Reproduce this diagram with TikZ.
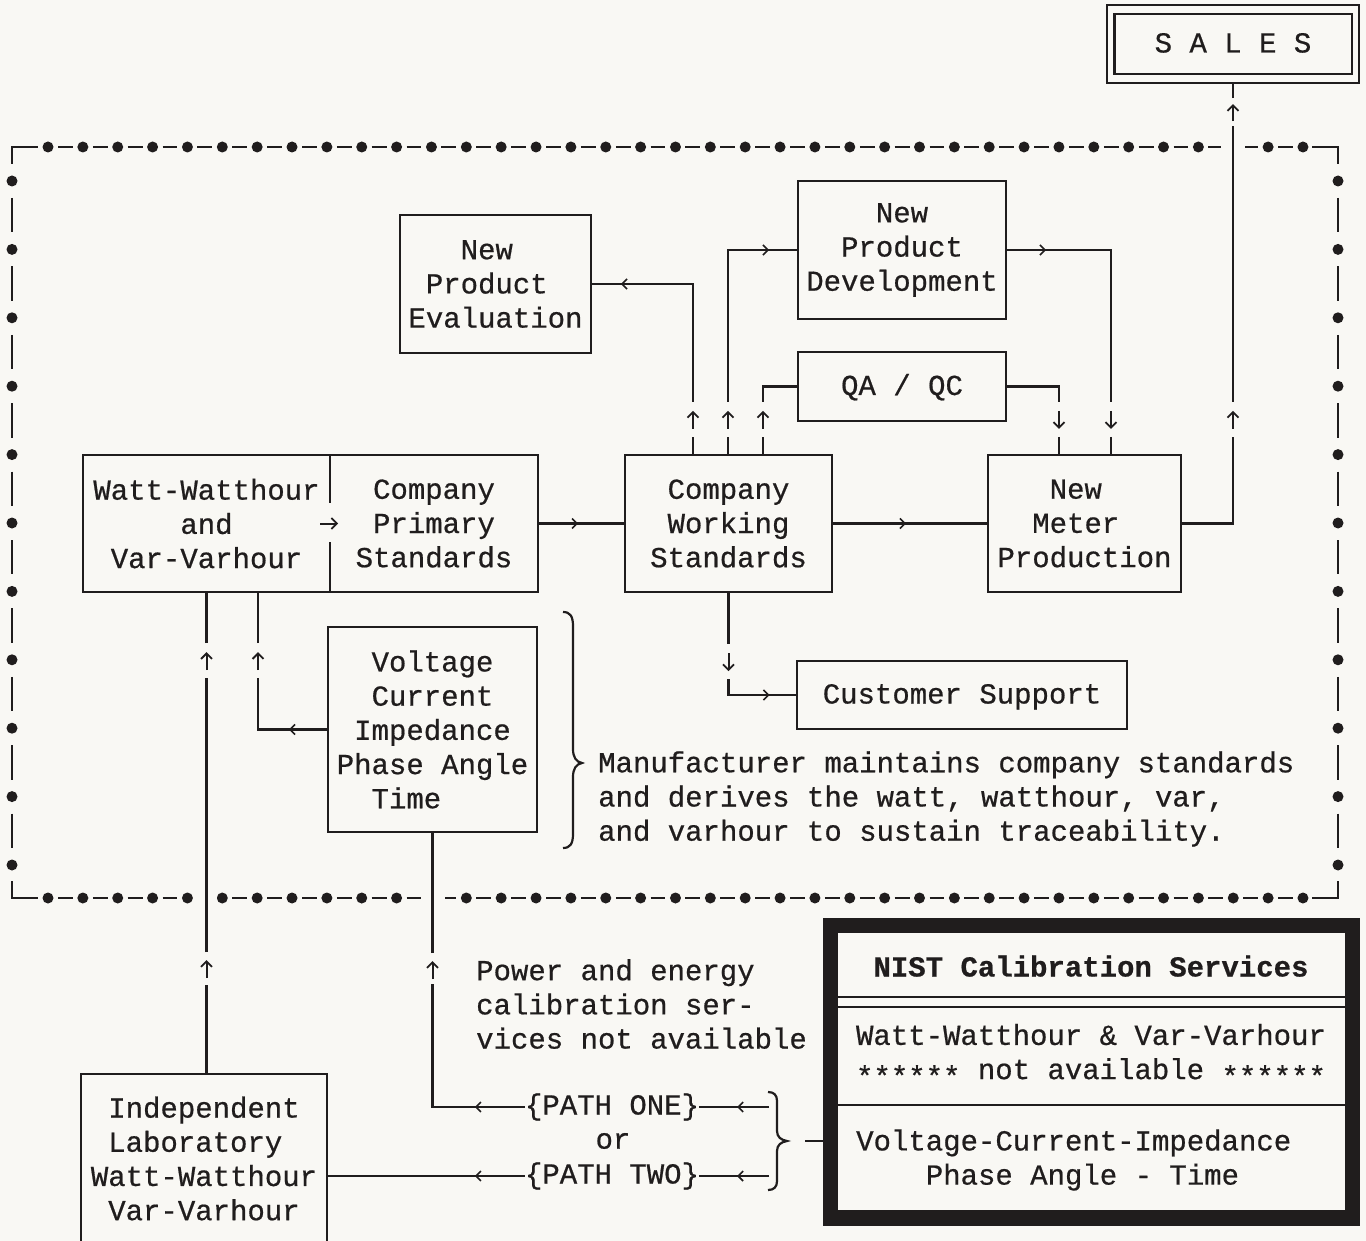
\documentclass[tikz,border=0pt]{standalone}
\usepackage{fontspec}
\newfontfamily\monofam[FakeBold=0.6]{Liberation Mono}
\newfontfamily\monobold[FakeBold=0.6]{Liberation Mono Bold}
\usetikzlibrary{arrows.meta,calc,decorations.markings}
\definecolor{ink}{RGB}{32,29,29}
\definecolor{paper}{RGB}{249,248,244}
\begin{document}
\begin{tikzpicture}[x=1pt,y=-1pt,
 every node/.style={font=\monofam\fontsize{29pt}{34.2pt}\selectfont, text=ink, inner sep=0pt},
 box/.style={draw=ink, line width=2.2pt, align=center},
 txt/.style={align=center},
 one/.style={text height=17pt, text depth=0pt},
 ln/.style={draw=ink, line width=2.2pt},
 glyph/.style={draw=ink, line width=2pt, -{Straight Barb[length=5.5pt,width=11pt,line width=1.8pt]}},
 marr/.style={postaction={decorate, decoration={markings, mark=at position #1 with {\arrow[ink]{Straight Barb[length=5pt,width=10pt,line width=1.6pt]}}}}},
]
\fill[paper] (0,0) rectangle (1366,1241);
\useasboundingbox (0,0) rectangle (1366,1241);
\clip (0,0) rectangle (1366,1241);

% ---------- dotted boundary ----------
\begin{scope}[ink, line width=2.2pt]
\foreach \k in {0,...,36} {
  \fill ({48+34.86*\k},147) circle[radius=5.5pt];
  \fill ({48+34.86*\k},898) circle[radius=5.5pt];
}
\foreach \k in {0,...,35} {
  \draw ({58+34.86*\k},147) -- ({72.86+34.86*\k},147);
  \draw ({58+34.86*\k},898) -- ({72.86+34.86*\k},898);
}
\foreach \k in {0,...,10} {
  \fill (12,{181+68.4*\k}) circle[radius=5.5pt];
  \fill (1338,{181+68.4*\k}) circle[radius=5.5pt];
}
\foreach \k in {0,...,9} {
  \draw (12,{198+68.4*\k}) -- (12,{232.4+68.4*\k});
  \draw (1338,{198+68.4*\k}) -- (1338,{232.4+68.4*\k});
}
\draw (12,164) -- (12,147) -- (38,147);
\draw (1312,147) -- (1338,147) -- (1338,164);
\draw (12,881) -- (12,898) -- (38,898);
\draw (1312,898) -- (1338,898) -- (1338,881);
\end{scope}
\fill[paper] (1221,139) rectangle (1245,155);
\fill[paper] (196.5,890) rectangle (216.5,906);
\fill[paper] (420.5,890) rectangle (444.5,906);

% ---------- nodes ----------
\node[box, one, minimum width=252pt, minimum height=78pt] (sales) at (1233,44) {S A L E S};
\draw[ln] ($(sales.north west)+(8.5,10)$) rectangle ($(sales.south east)+(-8.5,-10)$);

\node[box, minimum width=191pt, minimum height=138pt] (npe) at (495.5,284) {New\phantom{x}\\Product\phantom{x}\\Evaluation};
\node[box, minimum width=208pt, minimum height=138pt] (npd) at (902,250) {New\\Product\\Development};
\node[box, one, minimum width=208pt, minimum height=69pt] (qa) at (902,386.5) {QA / QC};

\node[txt, minimum width=247pt, minimum height=137pt] (ww) at (206.5,523.5) {Watt-Watthour\\and\\Var-Varhour};
\node[txt, minimum width=208pt, minimum height=137pt] (cps) at (434,523.5) {Company\\Primary\\Standards};
\draw[ln] (ww.north west) rectangle (cps.south east);
\draw[ln] (ww.north east) -- ++(0,48);
\draw[ln] (ww.south east) -- ++(0,-50);
\draw[glyph] ($(ww.east)+(-10,0)$) -- ($(ww.east)+(8,0)$);

\node[box, minimum width=207pt, minimum height=137pt] (cws) at (728.5,523.5) {Company\\Working\\Standards};
\node[box, minimum width=193pt, minimum height=137pt] (nmp) at (1084.5,523.5) {New\phantom{x}\\Meter\phantom{x}\\Production};
\node[box, minimum width=209pt, minimum height=205pt] (vbox) at (432.5,729.5) {Voltage\\Current\\Impedance\\Phase Angle\\Time\phantom{xxx}};
\node[box, one, minimum width=330pt, minimum height=68pt] (cs) at (962,695) {Customer Support};

\node[box, minimum width=246pt, minimum height=200pt, anchor=north] (ilab) at (204,1073) {};
\node[txt] (ilabt) at (204,1158.5) {Independent\\Laboratory\phantom{x}\\Watt-Watthour\\Var-Varhour};

\node[align=left, anchor=west] (mfr) at (598,799) {Manufacturer maintains company standards\\and derives the watt, watthour, var,\\and varhour to sustain traceability.};
\node[align=left, anchor=west] (pwr) at (476,1004) {Power and energy\\calibration ser-\\vices not available};

\node (p1) at (612,1107) {\{PATH ONE\}};
\node (por) at (613,1141) {or};
\node (p2) at (612,1176) {\{PATH TWO\}};

% NIST box
\node[fill=ink, minimum width=537pt, minimum height=308pt] (nist) at (1091.5,1072) {};
\fill[paper] ($(nist.north west)+(15,15)$) rectangle ($(nist.south east)+(-15,-16)$);
\draw[ln] ($(nist.north west)+(15,79)$) -- ($(nist.north east)+(-15,79)$);
\draw[ln] ($(nist.north west)+(15,89)$) -- ($(nist.north east)+(-15,89)$);
\draw[ln, line width=2.6pt] ($(nist.north west)+(15,187)$) -- ($(nist.north east)+(-15,187)$);
\node[font=\monobold\fontsize{29pt}{34.2pt}\selectfont, one] (nist1) at (1091,968) {NIST Calibration Services};
\node[txt] (nist2) at (1091,1055) {Watt-Watthour \& Var-Varhour\\\raisebox{-7pt}{******} not available \raisebox{-7pt}{******}};
\node[align=left, anchor=west] (nist3) at (856,1160) {Voltage-Current-Impedance\\\phantom{xxxx}Phase Angle - Time};

% braces
\draw[ln] (563,612) .. controls (570,612) and (573,616) .. (573,626) -- (573,749)
  .. controls (573,757) and (576,762) .. (582,763) .. controls (576,764) and (573,769) .. (573,777)
  -- (573,834) .. controls (573,844) and (570,848) .. (563,848);
\draw[ln] (768,1092) .. controls (774,1092) and (777,1095) .. (777,1101) -- (777,1131)
  .. controls (777,1137) and (781,1140) .. (787,1141) .. controls (781,1142) and (777,1145) .. (777,1151)
  -- (777,1181) .. controls (777,1187) and (774,1190) .. (768,1190);

% ---------- connectors ----------
\coordinate (u1) at ($(cws.north)+(-35.5,0)$);
\coordinate (u2) at ($(cws.north)+(-0.5,0)$);
\coordinate (u3) at ($(cws.north)+(34.5,0)$);
\foreach \u in {u1,u2,u3} {
  \draw[ln] (\u) -- ++(0,-17);
  \draw[glyph] ($(\u)+(0,-25)$) -- ($(\u)+(0,-43)$);
}
\draw[ln, marr=190pt] ($(u1)+(0,-52)$) |- (npe.east);
\draw[ln, marr=193pt] ($(u2)+(0,-52)$) |- (npd.west);
\draw[ln] ($(u3)+(0,-52)$) |- (qa.west);

\coordinate (d1) at ($(nmp.north)+(-25.5,0)$);
\coordinate (d2) at ($(nmp.north)+(26.5,0)$);
\draw[ln] (qa.east) -| ($(d1)+(0,-52)$);
\draw[ln, marr=39pt] (npd.east) -| ($(d2)+(0,-52)$);
\foreach \d in {d1,d2} {
  \draw[glyph] ($(\d)+(0,-43)$) -- ($(\d)+(0,-25)$);
  \draw[ln] ($(\d)+(0,-17)$) -- (\d);
}

\coordinate (s1) at (sales.south |- u1);
\draw[ln] (nmp.east) -| ($(s1)+(0,-17)$);
\draw[glyph] ($(s1)+(0,-25)$) -- ($(s1)+(0,-43)$);
\draw[ln] ($(s1)+(0,-52)$) -- ($(sales.south)+(0,42)$);
\draw[glyph] ($(sales.south)+(0,37)$) -- ($(sales.south)+(0,20)$);
\draw[ln] ($(sales.south)+(0,14)$) -- (sales.south);

\draw[ln, marr=40pt] (cps.east) -- (cws.west);
\draw[ln, marr=73pt] (cws.east) -- (nmp.west);

\draw[ln] (cws.south) -- ++(0,51);
\draw[glyph] ($(cws.south)+(0,60)$) -- ($(cws.south)+(0,78)$);
\draw[ln, marr=57pt] ($(cws.south)+(0,86)$) |- (cs.west);

\coordinate (v1) at ($(ww.south)+(51.5,0)$);
\draw[ln, marr=38pt] (vbox.west) -| ($(v1)+(0,86)$);
\draw[glyph] ($(v1)+(0,78)$) -- ($(v1)+(0,60)$);
\draw[ln] ($(v1)+(0,51)$) -- (v1);

\coordinate (l1) at (ilab.north -| ww.south);
\draw[ln] (l1) -- ++(0,-88);
\draw[glyph] ($(l1)+(0,-95)$) -- ($(l1)+(0,-113)$);
\draw[ln] ($(l1)+(0,-121)$) -- ($(ww.south)+(0,86)$);
\draw[glyph] ($(ww.south)+(0,78)$) -- ($(ww.south)+(0,60)$);
\draw[ln] ($(ww.south)+(0,51)$) -- (ww.south);

\coordinate (c1) at (vbox.south |- p1.west);
\draw[ln, marr=50pt] (p1.west) -- (c1) -- ($(vbox.south)+(0,151)$);
\draw[glyph] ($(vbox.south)+(0,146)$) -- ($(vbox.south)+(0,128)$);
\draw[ln] ($(vbox.south)+(0,120)$) -- (vbox.south);

\coordinate (b1) at (769,1107);
\coordinate (b2) at (769,1176);
\draw[ln, marr=32pt] (b1) -- (p1.east);
\draw[ln, marr=32pt] (b2) -- (p2.east);
\draw[ln, marr=50pt] (p2.west) -- (p2.west -| ilab.east);

\coordinate (bt) at (805,1141);
\draw[ln] (bt) -- (bt -| nist.west);
\end{tikzpicture}
\end{document}
